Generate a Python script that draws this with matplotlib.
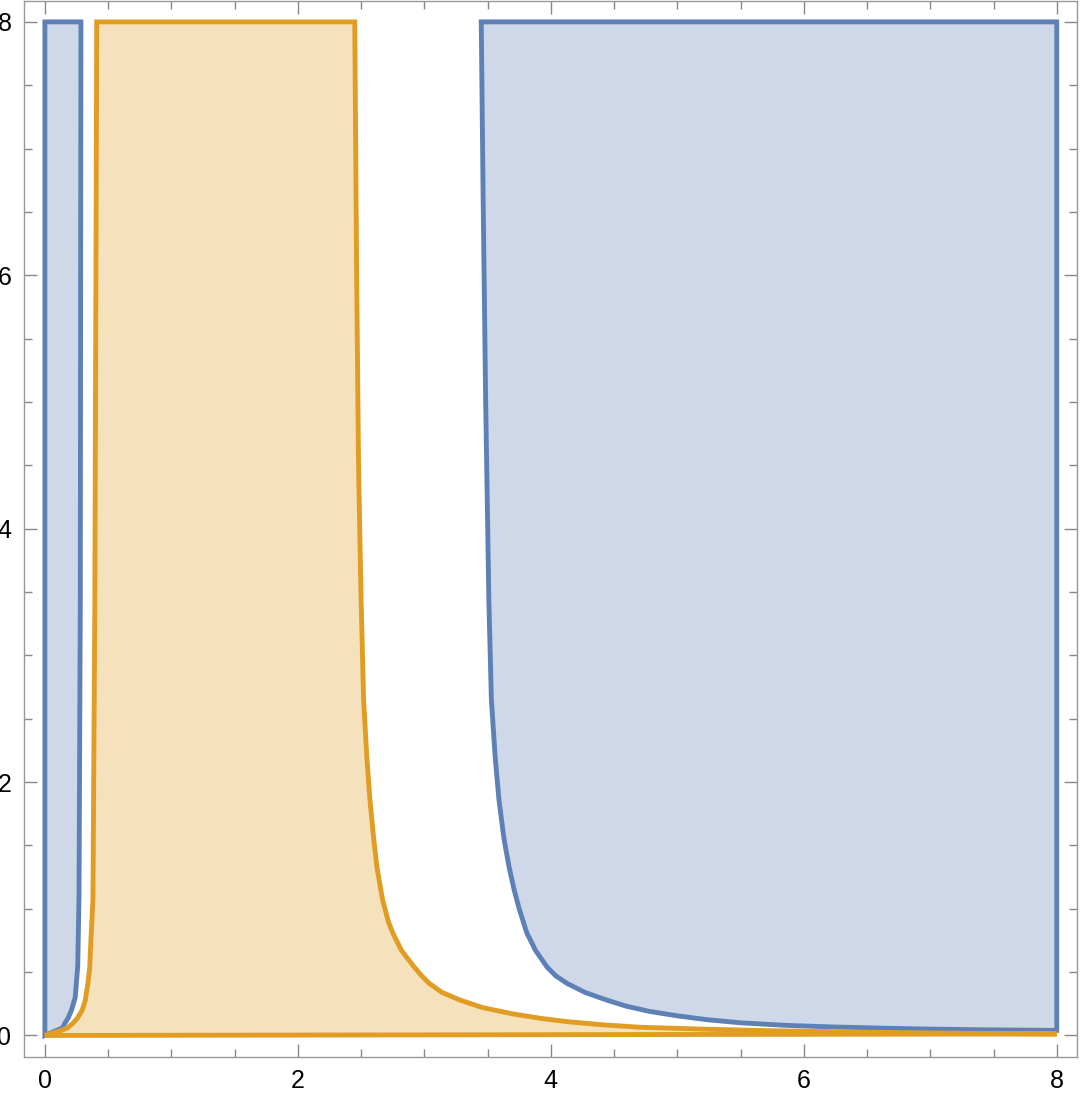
import matplotlib.pyplot as plt
import numpy as np

plt.rcParams['font.family'] = ['Liberation Sans', 'DejaVu Sans']

blue = '#5e81b5'
orange = '#e19c24'

# thin blue strip next to x=0: its right boundary, top to bottom
strip_x = [0.285, 0.28, 0.27, 0.26, 0.24, 0.21, 0.185, 0.16, 0.14]
strip_y = [8.0, 3.4, 1.1, 0.55, 0.3, 0.2, 0.14, 0.1, 0.06]

# orange region: left boundary (top to bottom), right boundary (bottom to top)
orange_left_x = [0.41, 0.395, 0.38, 0.36, 0.355, 0.34, 0.32, 0.295, 0.26, 0.225, 0.18, 0.12, 0.06, 0.0]
orange_left_y = [8.0, 3.4, 1.07, 0.67, 0.54, 0.41, 0.28, 0.2, 0.14, 0.1, 0.06, 0.035, 0.02, 0.0]
orange_right_x = [8.0, 7.4, 6.8, 6.2, 5.7, 5.2, 4.7, 4.4, 4.12, 3.92, 3.70, 3.46, 3.28, 3.14,
                  3.04, 2.98, 2.92, 2.82, 2.75, 2.715, 2.67, 2.625, 2.60, 2.57, 2.545, 2.52,
                  2.50, 2.48, 2.465, 2.45]
orange_right_y = [0.012, 0.016, 0.022, 0.03, 0.038, 0.05, 0.065, 0.085, 0.11, 0.135, 0.17, 0.22,
                  0.28, 0.34, 0.41, 0.47, 0.54, 0.67, 0.81, 0.9, 1.07, 1.33, 1.55, 1.86, 2.2,
                  2.65, 3.44, 4.5, 6.0, 8.0]

# big blue region: lower-left boundary, top to bottom
region_x = [3.45, 3.465, 3.485, 3.50, 3.51, 3.53, 3.56, 3.59, 3.63, 3.67, 3.71, 3.75, 3.81,
            3.88, 3.97, 4.04, 4.13, 4.27, 4.44, 4.6, 4.78, 5.0, 5.23, 5.5, 5.85, 6.2, 6.6,
            7.0, 7.5, 8.0]
region_y = [8.0, 6.6, 5.0, 4.07, 3.44, 2.65, 2.2, 1.86, 1.55, 1.33, 1.15, 1.0, 0.81,
            0.67, 0.54, 0.47, 0.41, 0.34, 0.28, 0.23, 0.19, 0.155, 0.125, 0.1, 0.08, 0.068,
            0.058, 0.05, 0.044, 0.04]

fig = plt.figure(figsize=(10.83, 10.96), dpi=100)
ax = fig.add_axes([24 / 1083, 39 / 1096, 1053 / 1083, 1056 / 1096])

lw = 3.5

# blue strip
sx = [0.0] + strip_x + [0.0]
sy = [8.0] + strip_y + [0.0]
ax.fill(sx, sy, facecolor=blue, alpha=0.3, edgecolor='none')
ax.fill(sx, sy, facecolor='none', edgecolor=blue, lw=lw, joinstyle='miter')

# big blue region
rx = region_x + [8.0]
ry = region_y + [8.0]
ax.fill(rx, ry, facecolor=blue, alpha=0.3, edgecolor='none')
ax.fill(rx, ry, facecolor='none', edgecolor=blue, lw=lw, joinstyle='miter')

# orange region
ox = orange_left_x + orange_right_x
oy = orange_left_y + orange_right_y
ax.fill(ox, oy, facecolor=orange, alpha=0.3, edgecolor='none')
ax.fill(ox, oy, facecolor='none', edgecolor=orange, lw=lw, joinstyle='miter')

ax.set_xlim(-0.165, 8.16)
ax.set_ylim(-0.17, 8.165)

ax.set_xticks([0, 2, 4, 6, 8])
ax.set_yticks([0, 2, 4, 6, 8])
ax.set_xticks(np.arange(0, 8.01, 0.5), minor=True)
ax.set_yticks(np.arange(0, 8.01, 0.5), minor=True)
ax.tick_params(which='both', direction='in', top=True, right=True, color='#888888', width=1.0)
ax.tick_params(which='major', length=9.5, labelsize=18, pad=9)
ax.tick_params(which='minor', length=6)

for s in ax.spines.values():
    s.set_color('#999999')
    s.set_linewidth(1.0)

fig.savefig('out.png', dpi=100)
